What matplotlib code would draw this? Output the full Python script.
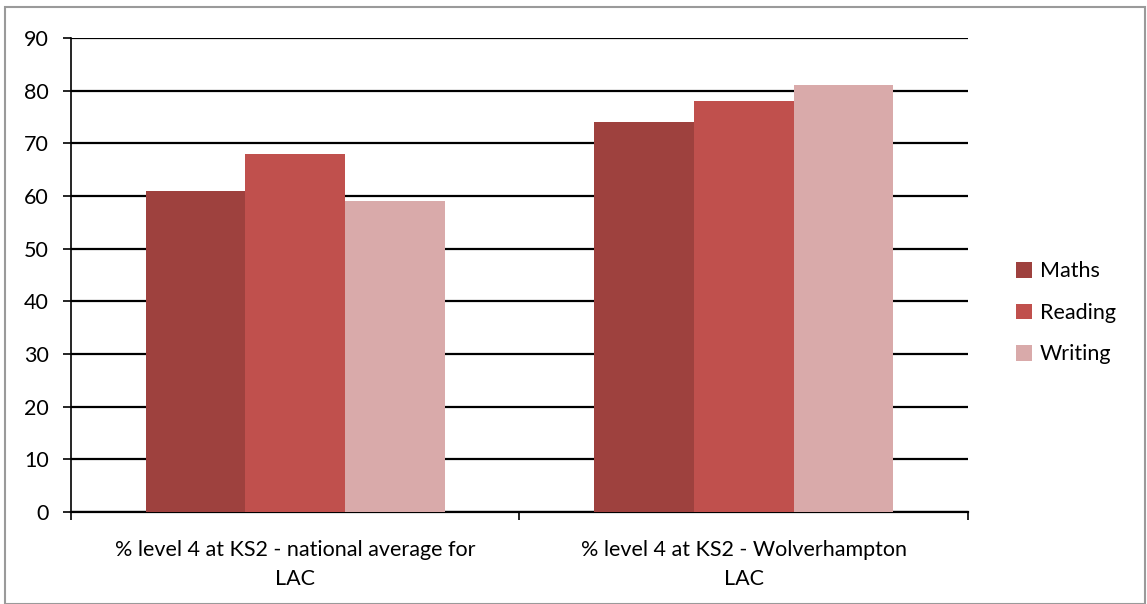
import numpy as np
import matplotlib
matplotlib.use("Agg")
import matplotlib.pyplot as plt
from matplotlib.patches import Rectangle

plt.rcParams['font.family'] = ['Lato', 'DejaVu Sans']

# KS2 level 4 results
categories = ["% level 4 at KS2 - national average for\nLAC",
              "% level 4 at KS2 - Wolverhampton\nLAC"]
series = ["Maths", "Reading", "Writing"]
maths = [61, 74]
reading = [68, 78]
writing = [59, 81]
colours = ["#9E413E", "#C0504D", "#D9AAAA"]
yticks = [0, 10, 20, 30, 40, 50, 60, 70, 80, 90]

fig = plt.figure(figsize=(11.47, 6.04), dpi=100)
ax = fig.add_axes([0.0619, 0.1523, 0.7820, 0.7848])

# outer chart border
fig.patches.append(Rectangle((0.0045, 0.0), 0.994, 0.988, transform=fig.transFigure,
                             fill=False, edgecolor="#9a9a9a", linewidth=1.5))

x = np.arange(len(categories))
width = 2.0 / 9.0
for i, (name, vals) in enumerate(zip(series, [maths, reading, writing])):
    ax.bar(x + (i - 1) * width, vals, width, color=colours[i], label=name, zorder=3)

ax.set_xlim(-0.5, 1.5)
ax.set_ylim(0, 90)
ax.set_yticks(yticks)
ax.yaxis.grid(True, color="black", linewidth=1.6, zorder=0)
ax.set_axisbelow(True)

ax.set_xticks([-0.5, 0.5, 1.5])
ax.set_xticklabels([])
ax.set_xticks(x, minor=True)
ax.set_xticklabels(categories, minor=True, fontsize=15.5, linespacing=1.55)
ax.tick_params(axis="x", which="minor", length=0, pad=20)
ax.tick_params(axis="x", which="major", length=6, width=1.2, direction="out")
ax.tick_params(axis="y", length=6, width=1.2, labelsize=15.5, pad=10)

for side in ["top", "right"]:
    ax.spines[side].set_visible(False)
ax.spines["left"].set_linewidth(1.2)
ax.spines["bottom"].set_linewidth(1.6)

leg = ax.legend(loc="center left", bbox_to_anchor=(1.032, 0.42), frameon=False,
                fontsize=15.5, handlelength=0.75, handleheight=0.75,
                handletextpad=0.35, labelspacing=1.0)

fig.savefig("out.png", dpi=100)
